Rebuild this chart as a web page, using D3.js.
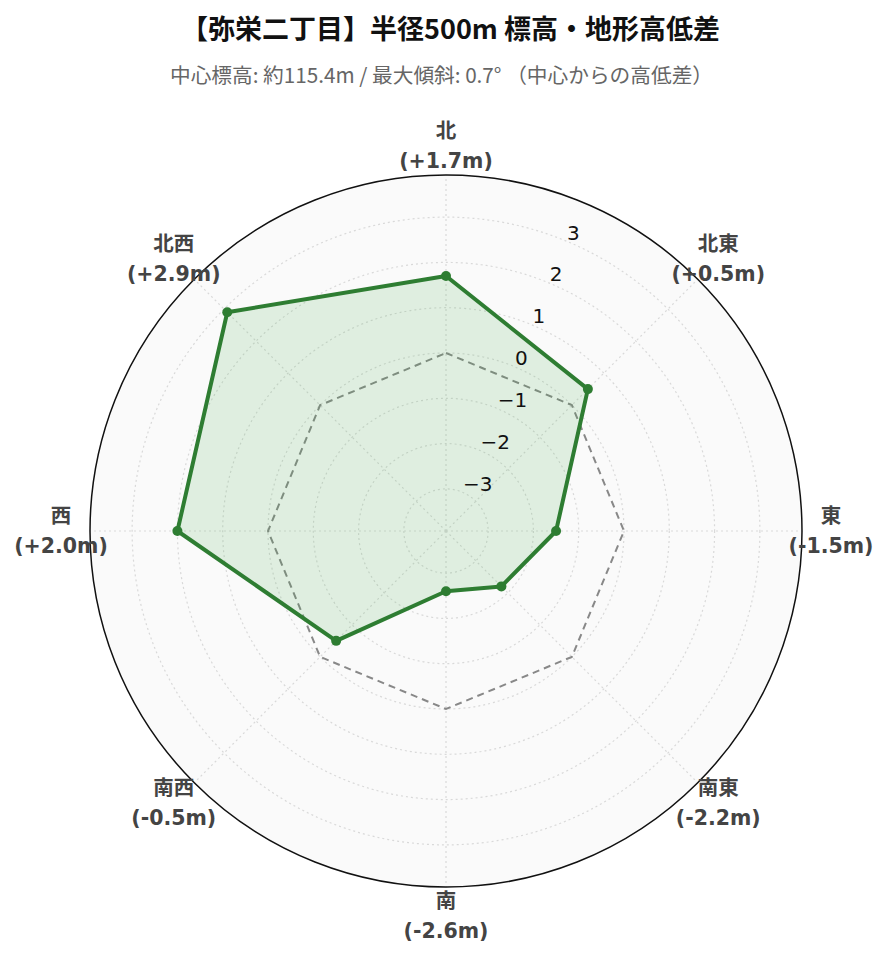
<!DOCTYPE html>
<html>
<head>
<meta charset="utf-8">
<script src="https://cdn.jsdelivr.net/npm/d3@7"></script>
<style>
  body { margin: 0; background: #fff; }
  svg { display: block; }
</style>
</head>
<body>
<div id="chart"></div>
<script>

const directions = ["北", "北東", "東", "南東", "南", "南西", "西", "北西"];
const diffs = [1.7, 0.5, -1.5, -2.2, -2.6, -0.5, 2.0, 2.9];
const radialTicks = [-3, -2, -1, 0, 1, 2, 3];
const titleText = "【弥栄二丁目】半径500m 標高・地形高低差";
const subtitleText = "中心標高: 約115.4m / 最大傾斜: 0.7° （中心からの高低差）";

const width = 889, height = 962;
const cx = 446, cy = 531, R = 356;
const green = "#2e7d32";

const svg = d3.select("#chart").append("svg")
    .attr("width", width)
    .attr("height", height);

// Title

svg.append("text")
    .attr("x", width / 2 + 6)
    .attr("y", 39)
    .attr("text-anchor", "middle")
    .style("font-family", "'Noto Sans CJK JP', sans-serif")
    .style("font-weight", "bold")
    .style("font-size", "27px")
    .style("fill", "#111")
    .text(titleText);

svg.append("text")
    .attr("x", width / 2 - 3)
    .attr("y", 83)
    .attr("text-anchor", "middle")
    .style("font-family", "'Noto Sans CJK JP', sans-serif")
    .style("font-size", "20.7px")
    .style("fill", "#666")
    .text(subtitleText);

// Scales

const r = d3.scaleLinear().domain([-3.93, 3.93]).range([0, R]);
const angle = d3.scalePoint().domain(directions).range([0, 2 * Math.PI * 7 / 8]);

const g = svg.append("g").attr("transform", `translate(${cx},${cy})`);

g.append("circle")
    .attr("r", R)
    .attr("fill", "#fafafa");

// Grid

g.append("g")
    .selectAll("circle")
    .data(radialTicks)
    .join("circle")
    .attr("r", d => r(d))
    .attr("fill", "none")
    .attr("stroke", "#d9d9d9")
    .attr("stroke-width", 1.2)
    .attr("stroke-dasharray", "2,3");

g.append("g")
    .selectAll("line")
    .data(directions)
    .join("line")
    .attr("x1", 0).attr("y1", 0)
    .attr("x2", d => R * Math.sin(angle(d)))
    .attr("y2", d => -R * Math.cos(angle(d)))
    .attr("stroke", "#d9d9d9")
    .attr("stroke-width", 1.2)
    .attr("stroke-dasharray", "2,3");

// Zero reference

const zeroLine = d3.lineRadial()
    .angle(d => angle(d))
    .radius(() => r(0))
    .curve(d3.curveLinearClosed);

g.append("path")
    .attr("d", zeroLine(directions))
    .attr("fill", "none")
    .attr("stroke", "#888")
    .attr("stroke-width", 2)
    .attr("stroke-dasharray", "7,5");

// Data

const pts = directions.map((d, i) => ({ dir: d, v: diffs[i] }));

const area = d3.lineRadial()
    .angle(d => angle(d.dir))
    .radius(d => r(d.v))
    .curve(d3.curveLinearClosed);

g.append("path")
    .attr("d", area(pts))
    .attr("fill", "#4caf50")
    .attr("fill-opacity", 0.15)
    .attr("stroke", "none");

g.append("path")
    .attr("d", area(pts))
    .attr("fill", "none")
    .attr("stroke", green)
    .attr("stroke-width", 4)
    .attr("stroke-linejoin", "round");

g.append("g")
    .selectAll("circle")
    .data(pts)
    .join("circle")
    .attr("cx", d => r(d.v) * Math.sin(angle(d.dir)))
    .attr("cy", d => -r(d.v) * Math.cos(angle(d.dir)))
    .attr("r", 5)
    .attr("fill", green);

// Outer border

g.append("circle")
    .attr("r", R)
    .attr("fill", "none")
    .attr("stroke", "#111")
    .attr("stroke-width", 1.5);

// Radial tick labels

const tickAngle = Math.PI / 8;

g.append("g")
    .selectAll("text")
    .data(radialTicks)
    .join("text")
    .attr("x", d => r(d) * Math.sin(tickAngle) + 1)
    .attr("y", d => -r(d) * Math.cos(tickAngle) - 1.5)
    .style("font-family", "'DejaVu Sans', sans-serif")
    .style("font-size", "20px")
    .style("fill", "#111")
    .text(d => d3.format("")(d).replace("-", "\u2212"));

// Direction labels

const labelR = 385;
const labels = g.append("g")
    .selectAll("text")
    .data(pts)
    .join("text")
    .attr("text-anchor", "middle")
    .style("font-family", "'DejaVu Sans', 'Noto Sans CJK JP', sans-serif")
    .style("font-weight", "bold")
    .style("font-size", "20.5px")
    .style("fill", "#444");

labels.append("tspan")
    .attr("x", d => labelR * Math.sin(angle(d.dir)))
    .attr("y", d => -labelR * Math.cos(angle(d.dir)) - 8)
    .text(d => d.dir);

labels.append("tspan")
    .attr("x", d => labelR * Math.sin(angle(d.dir)))
    .attr("y", d => -labelR * Math.cos(angle(d.dir)) + 22)
    .text(d => `(${d.v > 0 ? "+" : ""}${d.v.toFixed(1)}m)`);

</script>
</body>
</html>
